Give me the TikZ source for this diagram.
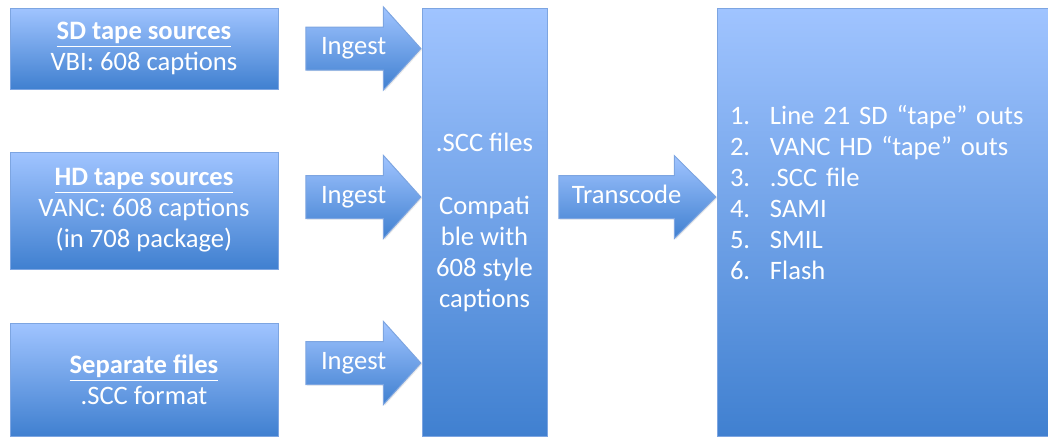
\documentclass[tikz,border=0pt]{standalone}
\usepackage{fontspec}
\setmainfont{Carlito}
\usetikzlibrary{shapes.arrows,shadows}
\definecolor{paleblue}{RGB}{160,196,255}
\definecolor{deepblue}{RGB}{64,128,208}
\definecolor{edgeblue}{RGB}{125,165,225}
\tikzset{
  block/.style={
    draw=edgeblue, line width=0.5pt, top color=paleblue, bottom color=deepblue,
    text=white, align=center, inner sep=0pt, font=\fontsize{13.3}{15.5}\selectfont,
    drop shadow={opacity=0.18, shadow xshift=0.6pt, shadow yshift=-0.6pt}},
  source/.style={block, minimum width=134pt},
  blockarrow/.style={
    block, single arrow, single arrow head extend=10pt, single arrow head indent=0pt,
    text height=8pt, text depth=2pt, inner ysep=5.5pt, inner xsep=2pt,
    minimum width=0pt, anchor=tip}
}
\newcommand{\hdr}[1]{\underline{\textbf{#1}}}
\newcommand{\itemno}[1]{\makebox[20pt][l]{#1}}

\begin{document}
\begin{tikzpicture}[x=0.5pt, y=-0.5pt]
	\useasboundingbox (0,0) rectangle (1048,436);
	\node[source, minimum height=40.5pt] (sd) at (144,48.5) {\hdr{SD tape sources}\\VBI: 608 captions};
	\node[source, minimum height=58.5pt] (hd) at (144,210.5) {\hdr{HD tape sources}\\VANC: 608 captions\\(in 708 package)};
	\node[source, minimum height=56.5pt] (sep) at (144,379.5) {\hdr{Separate files}\\.SCC format};
	\node[block, minimum width=62.5pt, minimum height=214pt] (scc) at (484.5,222)
		{.SCC files\\[16pt]Compati\\ble with\\608 style\\captions};
	\node[block, minimum height=214pt, text width=152.5pt, inner xsep=6.5pt, align=left] (outs) at (882.5,222)
		{\itemno{1.}Line 21 SD “tape” outs\\\itemno{2.}VANC HD “tape” outs\\\itemno{3.}.SCC file\\
		 \itemno{4.}SAMI\\\itemno{5.}SMIL\\\itemno{6.}Flash\\[14.5pt]\mbox{}};
	% ingest and transcode arrows
	\node[blockarrow, minimum height=57.5pt, single arrow tip angle=96] (in1) at (scc.west |- sd) {Ingest};
	\node[blockarrow, minimum height=57.5pt, single arrow tip angle=96] (in2) at (scc.west |- 0,197) {Ingest};
	\node[blockarrow, minimum height=57.5pt, single arrow tip angle=96] (in3) at (scc.west |- 0,363) {Ingest};
	\node[blockarrow, minimum height=78.5pt, single arrow tip angle=90] (trans) at (outs.west |- in2.tip) {Transcode};
\end{tikzpicture}
\end{document}
